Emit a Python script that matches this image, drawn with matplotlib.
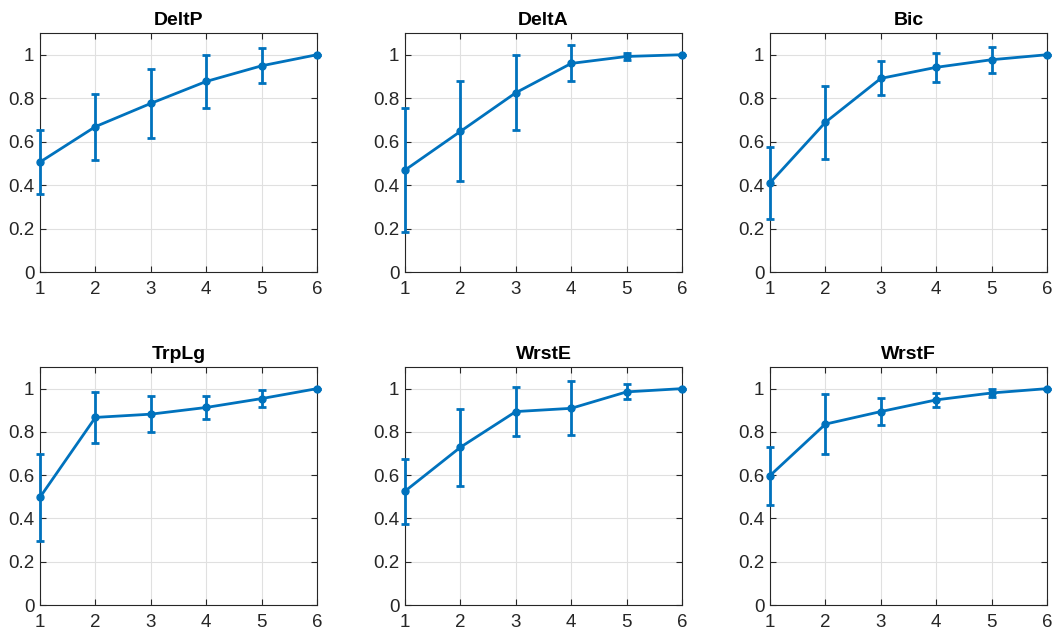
import matplotlib
matplotlib.use("Agg")
import matplotlib.pyplot as plt
import numpy as np

x = [1, 2, 3, 4, 5, 6]
titles = ["DeltP", "DeltA", "Bic", "TrpLg", "WrstE", "WrstF"]

deltp_mean = [0.506, 0.669, 0.776, 0.877, 0.949, 1.0]
deltp_err = [0.148, 0.152, 0.158, 0.122, 0.080, 0.0]
delta_mean = [0.469, 0.647, 0.825, 0.960, 0.992, 1.0]
delta_err = [0.285, 0.230, 0.172, 0.083, 0.017, 0.0]
bic_mean = [0.410, 0.689, 0.891, 0.942, 0.977, 1.0]
bic_err = [0.164, 0.168, 0.078, 0.068, 0.060, 0.0]
trplg_mean = [0.498, 0.867, 0.882, 0.913, 0.954, 1.0]
trplg_err = [0.200, 0.117, 0.083, 0.052, 0.040, 0.0]
wrste_mean = [0.526, 0.729, 0.894, 0.909, 0.985, 1.0]
wrste_err = [0.150, 0.177, 0.115, 0.124, 0.035, 0.0]
wrstf_mean = [0.598, 0.836, 0.894, 0.948, 0.980, 1.0]
wrstf_err = [0.134, 0.138, 0.063, 0.034, 0.020, 0.0]

means = [deltp_mean, delta_mean, bic_mean, trplg_mean, wrste_mean, wrstf_mean]
errs = [deltp_err, delta_err, bic_err, trplg_err, wrste_err, wrstf_err]

yticks = [0, 0.2, 0.4, 0.6, 0.8, 1]
yticklabels = ["0", "0.2", "0.4", "0.6", "0.8", "1"]

plt.rcParams['font.family'] = ['Liberation Sans', 'DejaVu Sans']

W, H = 1055, 633
fig = plt.figure(figsize=(W / 100, H / 100), dpi=100)

lefts = [40, 405, 770]
width = 277
rows = [(33, 272), (367, 605)]
color = "#0072BD"

for i in range(6):
    r, c = divmod(i, 3)
    top, bot = rows[r]
    ax = fig.add_axes([lefts[c] / W, 1 - bot / H, width / W, (bot - top) / H])
    cont = ax.errorbar(x, means[i], yerr=errs[i], color=color, lw=2.0, marker='o',
                       markersize=5, capsize=2.8, capthick=2.0, elinewidth=2.0,
                       zorder=3)
    line, caps, bars = cont.lines
    line.set_clip_on(False)
    for cp in caps:
        cp.set_clip_on(False)
    for b in bars:
        b.set_clip_on(False)
    ax.set_xlim(1, 6)
    ax.set_ylim(0, 1.1)
    ax.set_xticks(x)
    ax.set_yticks(yticks)
    ax.set_yticklabels(yticklabels)
    ax.grid(True, color="#e0e0e0", lw=0.8)
    ax.set_axisbelow(True)
    ax.tick_params(direction='in', top=True, right=True, labelsize=13.5,
                   colors="#262626", length=4, width=0.8)
    ax.tick_params(axis='x', pad=6.5)
    ax.tick_params(axis='y', pad=4)
    for s in ax.spines.values():
        s.set_color("#262626")
        s.set_linewidth(0.8)
    ax.set_title(titles[i], fontsize=14, fontweight='bold', pad=6)

fig.savefig("out.png", dpi=100)
